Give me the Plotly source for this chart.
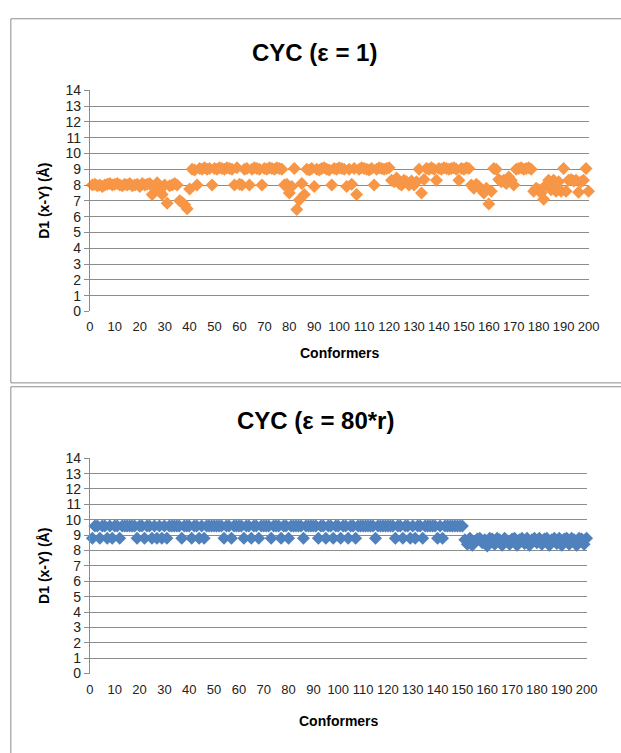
import plotly.graph_objects as go

W, H = 621, 753

conformers = list(range(1, 201))

d1_eps1 = [
    8.0, 8.05, 7.95, 8.0, 7.9, 8.0, 8.05, 8.1, 8.0, 8.05,
    8.1, 8.0, 7.95, 8.05, 8.0, 8.1, 7.95, 8.0, 8.05, 7.9,
    8.1, 8.0, 8.05, 8.1, 7.4, 7.8, 8.15, 7.6, 7.4, 8.0,
    6.85, 7.95, 8.0, 8.1, 8.0, 7.0, 6.9, 6.75, 6.5, 7.75,
    9.0, 8.95, 8.0, 9.05, 9.0, 9.1, 9.0, 9.05, 8.0, 9.05,
    9.0, 9.1, 9.05, 9.0, 9.1, 9.05, 9.0, 8.0, 9.1, 8.05,
    8.0, 9.0, 9.05, 8.0, 9.0, 9.1, 9.05, 9.0, 8.0, 9.05,
    9.0, 9.1, 9.05, 9.0, 9.1, 9.05, 9.0, 8.0, 8.05, 7.5,
    7.9, 9.05, 6.45, 7.05, 8.1, 7.4, 9.0, 8.95, 9.05, 7.9,
    9.0, 8.95, 9.05, 9.1, 9.0, 8.95, 8.0, 9.05, 9.0, 9.1,
    9.05, 9.0, 7.9, 9.0, 8.05, 9.05, 7.4, 9.0, 9.1, 9.05,
    9.0, 8.95, 9.05, 8.0, 9.0, 9.1, 9.05, 9.0, 9.05, 9.1,
    8.3, 8.2, 8.45, 8.1, 8.0, 8.3, 8.2, 8.0, 8.25, 8.0,
    8.2, 9.0, 7.5, 8.35, 9.05, 9.0, 9.1, 9.0, 8.3, 9.05,
    9.0, 9.1, 9.05, 9.0, 9.05, 9.1, 9.0, 8.3, 9.05, 9.0,
    9.1, 9.05, 8.0, 7.8, 8.05, 7.9, 7.7, 7.5, 7.8, 6.8,
    7.6, 9.05, 9.0, 8.35, 8.2, 8.3, 8.1, 8.5, 8.3, 8.0,
    9.0, 9.05, 9.1, 9.0, 9.05, 9.1, 9.0, 7.6, 7.8, 7.7,
    7.5, 7.1, 8.0, 8.3, 7.7, 8.3, 7.6, 8.2, 7.6, 9.05,
    7.6, 8.3, 8.35, 8.25, 8.3, 7.55, 8.2, 8.3, 9.05, 7.6,
]

low_80r = {1, 4, 7, 9, 12, 19, 22, 25, 27, 29, 31, 37, 41, 44, 46, 54, 57,
           62, 65, 68, 73, 77, 80, 86, 92, 95, 98, 101, 104, 107, 115, 123,
           126, 129, 131, 134, 140, 142}
d1_eps80r_first = [8.8 if c in low_80r else 9.6 for c in range(1, 151)]
d1_eps80r_last = [
    8.7, 8.4, 8.8, 8.35, 8.6, 8.75, 8.8, 8.5, 8.7, 8.3,
    8.8, 8.75, 8.4, 8.8, 8.7, 8.35, 8.8, 8.6, 8.4, 8.75,
    8.8, 8.35, 8.7, 8.8, 8.45, 8.8, 8.35, 8.7, 8.8, 8.5,
    8.8, 8.4, 8.75, 8.8, 8.35, 8.7, 8.8, 8.45, 8.8, 8.35,
    8.75, 8.8, 8.4, 8.8, 8.7, 8.35, 8.8, 8.75, 8.4, 8.8,
]
d1_eps80r = d1_eps80r_first + d1_eps80r_last

titles = ["CYC (ε = 1)", "CYC (ε = 80*r)"]
x_title = "Conformers"
y_title = "D1 (x-Y) (Å)"
x_ticks = list(range(0, 201, 10))
y_ticks = list(range(0, 15))

ORANGE = "#F79646"
BLUE = "#4F81BD"
GRID = "#8C8C8C"
FONT = "Liberation Sans, Arial, sans-serif"


def px(x):
    return x / W


def py(y):
    return 1 - y / H


fig = go.Figure()

fig.add_trace(go.Scatter(
    x=conformers, y=d1_eps1, mode="markers", xaxis="x", yaxis="y",
    marker=dict(symbol="diamond", size=10, color=ORANGE, line=dict(width=0)),
    cliponaxis=False, showlegend=False, hoverinfo="skip",
))
fig.add_trace(go.Scatter(
    x=conformers, y=d1_eps80r, mode="markers", xaxis="x2", yaxis="y2",
    marker=dict(symbol="diamond", size=10, color=BLUE, line=dict(width=0)),
    cliponaxis=False, showlegend=False, hoverinfo="skip",
))

xax = dict(range=[0, 200], tickvals=x_ticks, ticktext=[str(t) for t in x_ticks],
           showgrid=False, zeroline=False, showline=False, ticks="",
           tickangle=0, ticklabelstandoff=6,
           tickfont=dict(family=FONT, size=13, color="#222"), fixedrange=True)
yax = dict(range=[0, 14], tickvals=y_ticks, ticktext=[str(t) for t in y_ticks],
           showgrid=True, gridcolor=GRID, gridwidth=1, zeroline=False,
           showline=True, linecolor=GRID, linewidth=1, ticks="outside",
           ticklen=5, tickcolor=GRID,
           tickfont=dict(family=FONT, size=14, color="#222"), fixedrange=True)

fig.update_layout(
    width=W, height=H, margin=dict(l=0, r=0, t=0, b=0),
    paper_bgcolor="white", plot_bgcolor="white",
    xaxis=dict(xax, domain=[px(88), px(599)], anchor="y"),
    yaxis=dict(yax, domain=[py(310), py(84)], anchor="x"),
    xaxis2=dict(xax, domain=[px(88), px(597)], anchor="y2"),
    yaxis2=dict(yax, domain=[py(680), py(460)], anchor="x2"),
)

# panel borders (they run past the right and bottom edges of the picture)
fig.add_shape(type="rect", xref="paper", yref="paper",
              x0=px(7), x1=px(640), y0=py(383), y1=py(11),
              line=dict(color="#8C8C8C", width=1), layer="below")
fig.add_shape(type="rect", xref="paper", yref="paper",
              x0=px(7), x1=px(640), y0=py(770), y1=py(387),
              line=dict(color="#8C8C8C", width=1), layer="below")

annots = [
    dict(text="<b>%s</b>" % titles[0], x=px(318), y=py(45), size=24),
    dict(text="<b>%s</b>" % titles[1], x=px(319), y=py(421), size=24),
    dict(text="<b>%s</b>" % x_title, x=px(344), y=py(352), size=14),
    dict(text="<b>%s</b>" % x_title, x=px(343), y=py(728), size=14),
]
for a in annots:
    fig.add_annotation(text=a["text"], x=a["x"], y=a["y"], xref="paper", yref="paper",
                       showarrow=False, xanchor="center", yanchor="middle",
                       font=dict(family=FONT, size=a["size"], color="#000"))
for yc in (197, 570):
    fig.add_annotation(text="<b>%s</b>" % y_title, x=px(41), y=py(yc), xref="paper",
                       yref="paper", showarrow=False, textangle=-90,
                       xanchor="center", yanchor="middle",
                       font=dict(family=FONT, size=14, color="#000"))

fig.write_html(
    "out.html",
    config={"displayModeBar": False, "staticPlot": True},
    post_script="document.body.style.margin='0';document.body.style.overflow='hidden';",
)
